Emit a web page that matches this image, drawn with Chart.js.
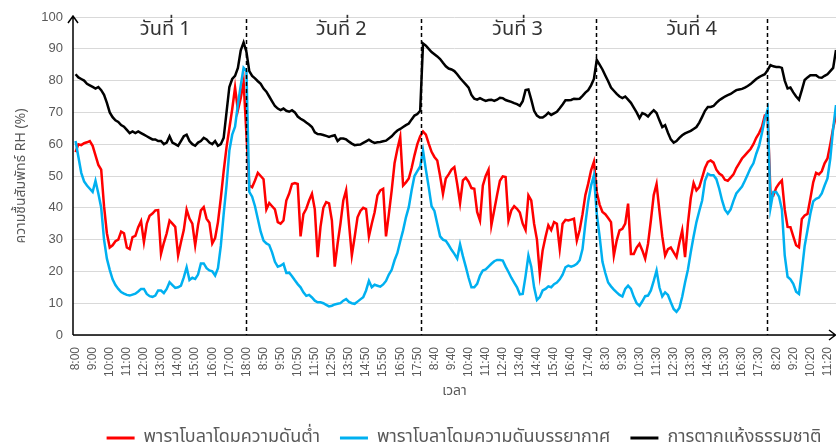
<!DOCTYPE html>
<html>
<head>
<meta charset="utf-8">
<script src="https://cdn.jsdelivr.net/npm/chart.js@4.4.1/dist/chart.umd.min.js"></script>
<style>
  body { margin: 0; background: #fff; }
  #wrap { width: 836px; height: 448px; }
</style>
</head>
<body>
<div id="wrap"><canvas id="chart" width="836" height="448"></canvas></div>
<script>
// tick labels shown every 6 readings (10 minute steps)
const tickLabels = ['8:00','9:00','10:00','11:00','12:00','13:00','14:00','15:00','16:00','17:00','18:00',
  '8:50','9:50','10:50','11:50','12:50','13:50','14:50','15:50','16:50','17:50',
  '8:40','9:40','10:40','11:40','12:40','13:40','14:40','15:40','16:40','17:40',
  '8:30','9:30','10:30','11:30','12:30','13:30','14:30','15:30','16:30','17:30',
  '8:20','9:20','10:20','11:20'];

const seriesNames = ['พาราโบลาโดมความดันต่ำ', 'พาราโบลาโดมความดันบรรยากาศ', 'การตากแห้งธรรมชาติ'];

const lowPressure = [
  57.5, 60, 59.7, 60.3, 60.6, 61, 59.5, 56.5, 53.5, 52,
  40.5, 32, 27.5, 28.2, 29.5, 30, 32.5, 32, 27.5, 27,
  30.8, 31.2, 33.9, 35.8, 29.2, 35, 37.5, 38.2, 39.2, 39.3,
  25.5, 29, 32, 36, 35, 34, 25, 29.2, 33, 39.4,
  36.6, 35, 28.2, 34.5, 39.2, 40.2, 36.6, 35.3, 28.8, 30.5,
  35.5, 43, 51.5, 59, 65, 71, 77.8, 70.7, 74.5, 79.6,
  63, 47, 46.5, 48.6, 51, 50, 49, 39.5, 41.5, 40.5,
  39.5, 35.5, 35, 36, 42.3, 44.5, 47.5, 47.8, 47.5, 31,
  38, 39.7, 42.3, 44.4, 39.5, 24.5, 34, 40, 41.8, 41.4,
  36, 21.5, 28.7, 35, 42.3, 45.5, 35, 25, 30.8, 37,
  39, 40, 39.6, 31, 35, 38.6, 43.9, 45.5, 46, 31,
  38, 45.5, 54, 58.5, 62.3, 47, 48, 49.2, 52.5, 56.5,
  60, 62.5, 64, 63, 60.2, 57.6, 56, 54.9, 50, 44.4,
  49.2, 50.5, 52, 52.8, 47.5, 41.5, 48.6, 49.5, 48.2, 46.2,
  46, 38.7, 36, 47, 50, 52, 34.5, 39.2, 44, 48.5,
  49.9, 49.7, 36, 39.2, 40.5, 39.7, 38.5, 35, 33, 43.9,
  42.3, 35, 30, 19.2, 26.6, 30.8, 34.5, 33, 35.5, 35,
  27.1, 35, 36.2, 36, 36.3, 36.6, 29.7, 33, 38, 44,
  47.6, 51.8, 54.5, 45, 41, 38.7, 38, 36.8, 35.5, 25,
  29.7, 32.9, 33.4, 35, 41.3, 25.5, 25.5, 27.5, 28.7, 26.6,
  24, 28.7, 36, 44, 47.5, 39, 31, 25, 27, 27.5,
  26, 24.5, 29, 32.9, 24.5, 35, 43, 47.8, 45.5, 46.5,
  49.5, 52.5, 54.4, 54.9, 54.2, 52, 50.8, 50.2, 48.8, 48.5,
  49.5, 50.5, 52.5, 54, 55.5, 56.5, 57.5, 58.5, 60, 62,
  63.5, 65.5, 69, 69, 44.4, 43.9, 46.3, 47.6, 48.6, 39.5,
  34, 33.9, 31, 28.2, 27.6, 36.5, 37.6, 38.1, 42.9, 48,
  51, 50.5, 51.5, 54, 55.5, 60, 65, 69
];

const atmPressure = [
  61, 56, 51, 48.3, 47, 46, 45, 48.5, 44.5, 40,
  30, 24, 20.5, 17.5, 15.7, 14.5, 13.5, 13, 12.6, 12.4,
  12.7, 13, 13.7, 14.5, 14.5, 12.9, 12.2, 12, 12.4, 14,
  14, 13.2, 14.5, 16.6, 15.7, 14.8, 15, 15.5, 18.1, 21.3,
  17.3, 18, 17.6, 19, 22.5, 22.5, 21, 20.3, 20, 18.7,
  21, 28, 38, 47, 58, 63, 65.5, 72.5, 78.5, 84,
  83, 45, 43.5, 40.5, 36.5, 32.5, 29.7, 28.8, 28.3, 26,
  23, 21.5, 21.8, 22.4, 19.5, 19.6, 18.5, 17.2, 16, 15,
  13.4, 12.3, 12.6, 11.8, 10.8, 10.3, 10.3, 10, 9.5, 9,
  9.2, 9.6, 9.8, 10, 10.8, 11.3, 10.4, 10, 9.8, 10.5,
  11.2, 11.9, 14, 17, 15, 15.8, 15.5, 15.2, 15.9, 17,
  19, 20.5, 23.5, 25.8, 29.5, 32.9, 37, 40.2, 45.5, 50,
  51.5, 53, 58, 52, 46.5, 40.5, 39, 35, 31, 30,
  29.6, 28.3, 26.8, 25.5, 24, 28.5, 24.8, 21.5, 18, 15,
  15, 16.1, 18.7, 20.3, 20.6, 21.5, 22.4, 23.2, 23.6, 23.6,
  23.4, 21.5, 19.8, 18, 16.5, 15, 12.8, 12.9, 18.5, 25,
  21.5, 15, 11, 11.9, 14, 14.5, 15.3, 15, 16, 16.5,
  17.5, 19, 21.3, 21.8, 21.5, 21.8, 22.4, 23.5, 27, 35,
  42, 47, 50.2, 38.1, 31, 23, 19.5, 16.5, 15.3, 14.3,
  13.4, 12.6, 12.1, 14.5, 15.5, 14.5, 12, 10, 9.2, 10.6,
  12.2, 12.4, 14, 17, 20.3, 15, 12.1, 13.4, 12.6, 10.3,
  8.2, 7.3, 8.5, 12, 16.5, 20.5, 26, 31, 35.5, 39,
  42.3, 48.5, 50.7, 50.2, 50.2, 49, 46, 42.3, 39.4, 38.2,
  39.5, 42.2, 44.5, 45.6, 46.7, 48.5, 50.5, 52.5, 54, 57,
  59.5, 63.5, 68, 70.9, 40, 45, 45, 43.5, 39.5, 25,
  18.3, 17.5, 16.1, 13.6, 12.9, 20, 28, 33, 38.1, 42,
  42.8, 43.2, 44.5, 47, 49.2, 55.5, 65, 72.3
];

const naturalDrying = [
  82, 81, 80.5, 80, 79, 78.5, 78, 77.5, 78, 77,
  75.5, 73, 70, 68.5, 67.5, 67, 66, 65.5, 64.5, 63.5,
  64, 63.5, 64, 63.5, 63, 62.5, 62, 61.5, 61.5, 61,
  61, 60, 60.5, 62.5, 60.5, 60, 59.5, 61, 62.5, 63,
  61, 60, 59.5, 60.5, 61, 62, 61.5, 60.5, 60, 61,
  59.5, 60, 62, 70, 78, 80.5, 81.5, 84, 89.5, 92,
  89, 83, 81.5, 80.7, 79.8, 79, 77.5, 76.5, 75, 73.5,
  72, 71.2, 70.7, 71.2, 70.5, 70.2, 70.7, 70, 68.7, 68,
  67.5, 66.8, 66.2, 65.4, 63.7, 63.2, 63.1, 62.9, 62.6, 62.3,
  62.6, 62.8, 61, 61.8, 61.8, 61.5, 60.8, 60.2, 59.7, 59.8,
  59.9, 60.4, 60.9, 61.4, 60.8, 60.4, 60.6, 60.7, 60.9, 61.1,
  61.8, 62.5, 63.5, 64.3, 64.8, 65.4, 66, 66.5, 67.8, 69,
  69.5, 70.5, 91.7, 91, 90, 89, 88.3, 87.6, 86.8, 85.6,
  84.5, 83.8, 83.5, 83, 82, 80.8, 79.8, 78.8, 77.8, 75.5,
  74.3, 74, 74.5, 74, 73.6, 73.9, 74, 73.6, 74, 74.6,
  74.5, 73.9, 73.6, 73.3, 72.9, 72.6, 72.1, 73.5, 77, 77.2,
  74, 70.5, 69, 68.4, 68.4, 69, 69.9, 69.2, 69.7, 70.2,
  71.3, 72.5, 73.8, 73.8, 73.9, 74.3, 74.2, 74.3, 75.2, 76.2,
  77, 78.5, 80.5, 86.5, 85, 83.5, 81.6, 79.8, 77.8, 76.8,
  75.8, 75, 74.5, 75, 74, 73, 71.5, 70, 68.2, 69.8,
  69.4, 68.7, 69.8, 70.7, 69.8, 67.5, 65.4, 66, 63.6, 61.5,
  60.5, 61, 62, 62.8, 63.4, 63.8, 64.2, 64.8, 65.4, 66.8,
  68.6, 70.5, 71.7, 71.7, 72, 73, 73.8, 74.4, 75, 75.4,
  75.8, 76.4, 77, 77.2, 77.4, 77.8, 78.3, 78.9, 79.7, 80.5,
  81.1, 81.6, 82, 83.3, 84.9, 84.5, 84.3, 84.3, 84, 80,
  77.5, 77.8, 76.3, 75, 74, 77, 80.2, 81, 81.7, 81.7,
  81.7, 81, 80.9, 81.5, 82, 83, 84, 89.6
];

// day separators (reading index) and day titles
const dayBreaks = [59.7, 121.3, 182.6, 242.6];
const dayNames = ['วันที่ 1', 'วันที่ 2', 'วันที่ 3', 'วันที่ 4'];
const dayCenters = [31.5, 93.3, 155.2, 216.3];

const colors = ['#ff0000', '#00b0f0', '#000000'];
const thaiFont = "Tahoma, 'Noto Sans Thai', 'Noto Sans', sans-serif";

function toPoints(arr) {
  return arr.map((v, i) => ({x: i, y: v}));
}

const extras = {
  id: 'extras',
  afterLayout(chart) {
    // legend sits a little right of centre in the original
    const lg = chart.legend;
    if (lg) { lg.left += 46; lg.right += 46; }
  },
  afterDatasetsDraw(chart) {
    const ctx = chart.ctx;
    const xs = chart.scales.x, ys = chart.scales.y;
    const a = chart.chartArea;
    ctx.save();
    // dashed day lines
    ctx.strokeStyle = '#000';
    ctx.lineWidth = 1.5;
    ctx.setLineDash([4, 3]);
    dayBreaks.forEach(d => {
      const px = Math.round(xs.getPixelForValue(d)) + 0.5;
      ctx.beginPath();
      ctx.moveTo(px, a.top + 2);
      ctx.lineTo(px, a.bottom);
      ctx.stroke();
    });
    ctx.setLineDash([]);
    // axes with arrows
    ctx.lineWidth = 1.5;
    ctx.beginPath();
    ctx.moveTo(a.left, a.bottom);
    ctx.lineTo(a.left, a.top - 1);
    ctx.moveTo(a.left - 5, a.top + 6);
    ctx.lineTo(a.left, a.top - 1);
    ctx.lineTo(a.left + 5, a.top + 6);
    ctx.moveTo(a.left, a.bottom);
    ctx.lineTo(a.right - 0.5, a.bottom);
    ctx.moveTo(a.right - 7, a.bottom - 5);
    ctx.lineTo(a.right - 0.5, a.bottom);
    ctx.lineTo(a.right - 7, a.bottom + 5);
    ctx.stroke();
    // day titles
    ctx.fillStyle = '#333';
    ctx.font = '20px ' + thaiFont;
    ctx.textAlign = 'center';
    ctx.textBaseline = 'middle';
    dayNames.forEach((t, i) => {
      ctx.fillText(t, xs.getPixelForValue(dayCenters[i]), ys.getPixelForValue(95.5));
    });
    ctx.restore();
  }
};

const ctx = document.getElementById('chart').getContext('2d');
const myChart = new Chart(ctx, {
  type: 'line',
  data: {
    datasets: [
      {label: seriesNames[0], data: toPoints(lowPressure), borderColor: colors[0], backgroundColor: colors[0], order: 2},
      {label: seriesNames[1], data: toPoints(atmPressure), borderColor: colors[1], backgroundColor: colors[1], order: 1},
      {label: seriesNames[2], data: toPoints(naturalDrying), borderColor: colors[2], backgroundColor: colors[2], order: 0}
    ]
  },
  options: {
    responsive: false,
    animation: false,
    layout: {padding: {top: 17, right: 0, left: 0, bottom: -9}},
    elements: {
      line: {borderWidth: 2.5, tension: 0},
      point: {radius: 0}
    },
    plugins: {
      tooltip: {enabled: false},
      legend: {
        position: 'bottom',
        labels: {
          color: '#595959',
          font: {size: 18, family: thaiFont},
          boxWidth: 28,
          boxHeight: 3,
          padding: 20,
          generateLabels(chart) {
            return chart.data.datasets.map((ds, i) => ({
              text: ds.label,
              fillStyle: ds.borderColor,
              strokeStyle: ds.borderColor,
              lineWidth: 0,
              fontColor: '#595959',
              datasetIndex: i
            }));
          }
        }
      }
    },
    scales: {
      x: {
        type: 'linear',
        min: -0.9,
        max: 267,
        grid: {display: false},
        border: {display: false},
        afterBuildTicks(s) {
          s.ticks = tickLabels.map((t, i) => ({value: i * 6}));
        },
        afterFit(s) {
          s.height = 74;
          s.paddingLeft = 0;
          s.paddingRight = 0;
        },
        ticks: {
          autoSkip: false,
          maxRotation: 90,
          minRotation: 90,
          color: '#595959',
          padding: 4,
          font: {size: 12, family: "'Liberation Sans', Arial, sans-serif"},
          callback: (v) => tickLabels[Math.round(v / 6)]
        },
        title: {
          display: true,
          text: 'เวลา',
          color: '#595959',
          font: {size: 14, family: thaiFont},
          padding: {top: 4, bottom: 8}
        }
      },
      y: {
        min: 0,
        max: 100,
        border: {display: false},
        grid: {color: '#d9d9d9', lineWidth: 1, drawTicks: false},
        afterFit(s) {
          s.width = 73;
          s.paddingTop = 0;
          s.paddingBottom = 0;
        },
        ticks: {
          stepSize: 10,
          color: '#595959',
          padding: 10,
          font: {size: 13, family: "'Liberation Sans', Arial, sans-serif"}
        },
        title: {
          display: true,
          text: 'ความชื้นสัมพัทธ์ RH (%)',
          color: '#595959',
          font: {size: 14, family: thaiFont},
          padding: {top: 14, bottom: 0}
        }
      }
    }
  },
  plugins: [extras]
});
</script>
</body>
</html>
